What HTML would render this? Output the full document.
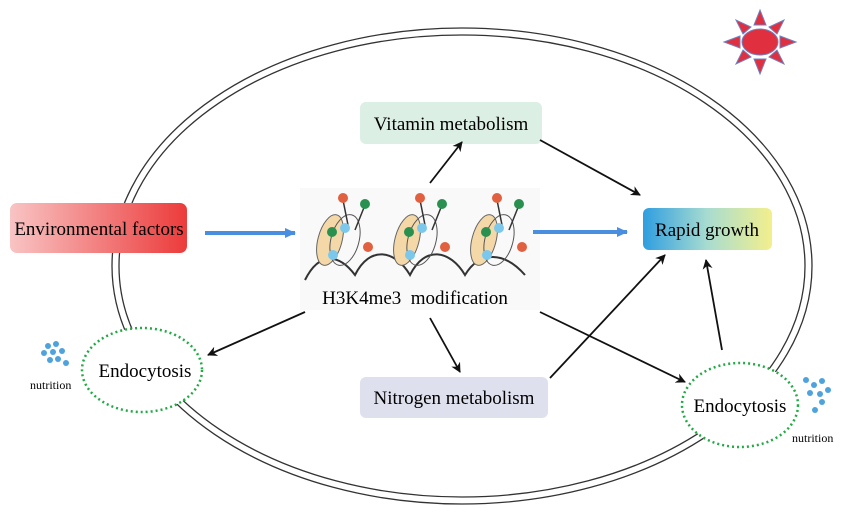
<!DOCTYPE html>
<html><head><style>body{margin:0;background:#fff}svg{display:block}text{font-family:"Liberation Serif",serif}</style></head>
<body>
<svg width="855" height="524" viewBox="0 0 855 524" xmlns="http://www.w3.org/2000/svg">
<defs>
<linearGradient id="env" x1="0" x2="1"><stop offset="0" stop-color="#f9c4c4"/><stop offset="1" stop-color="#ec3b3b"/></linearGradient>
<linearGradient id="rg" x1="0" x2="1"><stop offset="0" stop-color="#2f9ee0"/><stop offset="0.5" stop-color="#a8dcd0"/><stop offset="1" stop-color="#f3ef8c"/></linearGradient>
<marker id="ah" markerWidth="10" markerHeight="10" refX="9" refY="5" orient="auto" markerUnits="userSpaceOnUse"><path d="M0,0 L10,5 L0,10 L3,5z" fill="#111"/></marker>
<marker id="bh" markerWidth="12" markerHeight="12" refX="10" refY="6" orient="auto" markerUnits="userSpaceOnUse"><path d="M0,1 L11,6 L0,11z" fill="#4a8ee0"/></marker>
</defs>
<ellipse cx="462" cy="266" rx="350" ry="238" fill="none" stroke="#333" stroke-width="1.3"/>
<ellipse cx="462" cy="266" rx="343" ry="231" fill="none" stroke="#333" stroke-width="1.3"/>
<g transform="translate(760,42)" fill="#e03040" stroke="#7080c0" stroke-width="1">
<polygon points="0,-32 -6,-17 6,-17"/><polygon points="0,32 -6,17 6,17"/>
<polygon points="-36,0 -20,-6 -20,6"/><polygon points="36,0 20,-6 20,6"/>
<polygon points="-24,-22 -17,-8 -9,-15"/><polygon points="24,-22 17,-8 9,-15"/>
<polygon points="-24,22 -17,8 -9,15"/><polygon points="24,22 17,8 9,15"/>
<ellipse rx="18" ry="13"/>
</g>
<rect x="360" y="102" width="182" height="42" rx="6" fill="#dcefe4"/>
<text x="451" y="130" font-size="19" text-anchor="middle">Vitamin metabolism</text>
<rect x="10" y="203" width="177" height="50" rx="7" fill="url(#env)"/>
<text x="99" y="235" font-size="19" text-anchor="middle">Environmental factors</text>
<rect x="643" y="208" width="129" height="42" rx="6" fill="url(#rg)"/>
<text x="707" y="236" font-size="19" text-anchor="middle">Rapid growth</text>
<rect x="360" y="377" width="188" height="41" rx="6" fill="#dfe0ee"/>
<text x="454" y="404" font-size="19" text-anchor="middle">Nitrogen metabolism</text>
<ellipse cx="142" cy="370" rx="60" ry="42" fill="#fff" stroke="#22aa44" stroke-width="2.5" stroke-dasharray="2,3"/>
<text x="145" y="377" font-size="19" text-anchor="middle">Endocytosis</text>
<ellipse cx="740" cy="405" rx="58" ry="42" fill="#fff" stroke="#22aa44" stroke-width="2.5" stroke-dasharray="2,3"/>
<text x="740" y="412" font-size="19" text-anchor="middle">Endocytosis</text>
<text x="30" y="389" font-size="12">nutrition</text>
<text x="792" y="442" font-size="12">nutrition</text>
<g fill="#4fa3dd">
<circle cx="48" cy="346" r="3"/><circle cx="56" cy="344" r="3"/><circle cx="44" cy="353" r="3"/><circle cx="53" cy="352" r="3"/><circle cx="62" cy="351" r="3"/><circle cx="58" cy="359" r="3"/><circle cx="66" cy="363" r="3"/><circle cx="50" cy="360" r="3"/>
<circle cx="806" cy="380" r="3"/><circle cx="814" cy="385" r="3"/><circle cx="822" cy="381" r="3"/><circle cx="810" cy="393" r="3"/><circle cx="820" cy="394" r="3"/><circle cx="828" cy="390" r="3"/><circle cx="815" cy="410" r="3"/><circle cx="822" cy="402" r="3"/>
</g>
<rect x="300" y="188" width="240" height="122" fill="#f9f9f9"/>
<g>
<path d="M305,280 C320,250 340,255 355,275 C370,245 395,250 410,275 C425,245 450,250 465,275 C480,250 505,252 525,275" fill="none" stroke="#333" stroke-width="2"/>
<g id="n1">
<ellipse cx="330" cy="240" rx="12" ry="26" fill="#f5d8a8" stroke="#666" transform="rotate(15 330 240)"/>
<ellipse cx="345" cy="240" rx="14" ry="26" fill="none" stroke="#555" transform="rotate(15 345 240)"/>
<path d="M343,200 L348,225 M365,205 L355,230" stroke="#333" stroke-width="1.5"/>
<circle cx="343" cy="198" r="5" fill="#e06040"/><circle cx="365" cy="204" r="5" fill="#2a9050"/>
<circle cx="332" cy="232" r="5" fill="#2a9050"/><circle cx="345" cy="228" r="5" fill="#7cc8ec"/>
<circle cx="368" cy="247" r="5" fill="#e06040"/><circle cx="333" cy="255" r="5" fill="#7cc8ec"/>
</g>
<use href="#n1" x="77" y="0"/>
<use href="#n1" x="154" y="0"/>
</g>
<text x="415" y="304" font-size="19" text-anchor="middle" xml:space="preserve">H3K4me3  modification</text>
<line x1="205" y1="233" x2="295" y2="233" stroke="#4a8ee0" stroke-width="4" marker-end="url(#bh)"/>
<line x1="533" y1="232" x2="627" y2="232" stroke="#4a8ee0" stroke-width="4" marker-end="url(#bh)"/>
<g stroke="#111" stroke-width="1.8" fill="none" marker-end="url(#ah)">
<line x1="430" y1="183" x2="462" y2="142"/>
<line x1="540" y1="140" x2="640" y2="195"/>
<line x1="305" y1="312" x2="208" y2="355"/>
<line x1="430" y1="318" x2="460" y2="372"/>
<line x1="540" y1="312" x2="685" y2="382"/>
<line x1="550" y1="378" x2="665" y2="255"/>
<line x1="722" y1="350" x2="706" y2="260"/>
</g>
</svg>
</body></html>
